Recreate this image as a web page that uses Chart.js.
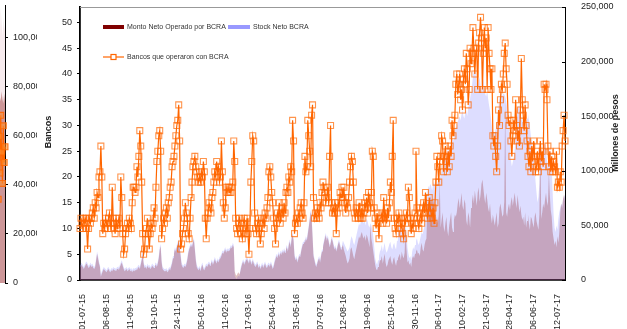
<!DOCTYPE html>
<html>
<head>
<meta charset="utf-8">
<script src="https://cdn.jsdelivr.net/npm/chart.js@4/dist/chart.umd.min.js"></script>
<style>
  body { margin: 0; background: #fff; }
  #wrap { position: relative; width: 627px; height: 329px; overflow: hidden; }
  #sideBox { position: absolute; left: 0; top: 0; width: 37px; height: 329px; overflow: hidden; }
  #side { position: absolute; left: -20px; top: 0; }
  #mainBox { position: absolute; left: 37px; top: 0; width: 590px; height: 329px; background: #fff; }
</style>
</head>
<body>
<div id="wrap">
  <div id="sideBox"><canvas id="side" width="60" height="329"></canvas></div>
  <div id="mainBox"><canvas id="main" width="590" height="329"></canvas></div>
</div>
<script>
// Dates shown on the x axis, one every 25 business days
const tickLabels = ['01-07-15', '06-08-15', '11-09-15', '19-10-15', '24-11-15', '05-01-16', '11-02-16',
  '17-03-16', '25-04-16', '31-05-16', '07-07-16', '12-08-16', '19-09-16', '25-10-16', '30-11-16',
  '06-01-17', '10-02-17', '21-03-17', '28-04-17', '06-06-17', '12-07-17'];
const firstTick = 3;
const tickStep = 25;

// Bancos que operaron con BCRA (daily count)
const bancos = [
  10,12,11,10,12,11,12,10,6,10,12,11,12,13,14,12,15,
  14,17,16,20,21,26,20,9,11,10,12,11,10,12,13,11,10,18,12,11,
  9,12,10,11,12,10,20,16,9,5,6,9,10,11,10,12,11,10,15,18,
  18,17,18,22,20,24,29,26,19,9,5,6,9,10,12,9,6,9,11,10,
  11,14,12,18,23,25,28,29,25,8,10,12,11,13,14,12,15,16,18,19,
  22,23,24,26,28,30,31,34,27,6,7,9,10,12,15,13,12,9,8,12,
  16,19,22,23,24,22,21,20,19,20,19,21,20,23,21,12,8,12,13,15,
  14,13,16,17,19,21,20,23,21,22,19,20,27,21,15,12,14,18,17,18,
  17,18,17,18,19,27,23,12,10,9,11,12,10,9,8,11,12,10,9,12,
  9,5,10,19,23,28,27,13,10,9,11,12,10,7,9,11,12,10,13,12,
  14,16,21,22,20,17,15,12,10,7,11,13,12,15,11,13,14,12,15,13,
  17,18,17,20,19,22,21,31,27,9,11,12,11,13,12,14,15,13,12,15,
  24,21,22,31,28,25,22,32,34,16,12,13,12,14,13,12,15,14,17,19,
  18,17,15,16,18,15,24,30,15,13,14,13,15,9,13,15,14,17,16,18,
  16,18,15,13,15,14,16,19,22,24,23,19,13,12,14,13,12,15,13,12,
  14,12,13,15,14,16,13,17,15,14,17,25,24,14,12,10,13,11,8,12,
  12,13,11,16,12,13,11,14,12,15,19,17,24,31,12,10,9,12,11,13,
  12,10,11,9,8,12,11,13,12,18,16,12,9,11,10,12,13,25,14,11,
  10,12,13,11,14,15,13,17,14,12,13,16,14,13,12,14,11,15,19,24,
  22,19,23,24,28,27,21,24,26,23,21,25,22,26,24,31,28,30,32,38,
  40,36,38,40,35,37,33,39,41,38,44,41,34,37,45,42,44,49,45,40,
  44,45,37,46,48,51,47,37,44,49,45,47,37,49,44,41,37,41,28,26,
  28,24,21,26,33,30,35,38,37,40,44,46,41,38,32,30,31,27,24,28,
  31,29,35,30,27,29,26,33,43,35,32,29,34,30,27,24,22,25,21,26,
  23,27,24,21,22,25,21,24,27,23,25,22,38,37,38,35,26,22,25,21,
  24,21,23,22,21,25,18,19,18,21,19,26,29,32,27
];

// Monto Neto Operado por BCRA (miles de millones de pesos)
const montoNeto = [
  12,14,13,12,10,12,14,15,13,11,12,14,12,13,11,10,12,
  18,24,20,15,12,3,6,8,10,9,8,7,9,10,8,7,9,8,10,9,
  9,8,10,11,9,12,14,16,13,10,8,9,10,8,9,10,8,9,7,9,
  8,9,10,9,11,12,10,14,18,25,15,11,12,10,13,11,12,10,11,13,
  12,11,13,14,12,15,20,28,31,16,10,9,8,8,9,7,8,10,9,12,
  15,20,24,28,26,30,33,35,30,22,14,12,11,13,12,14,18,24,28,30,
  32,30,34,37,28,18,12,10,9,11,8,12,14,10,9,11,13,12,14,15,
  13,15,17,14,16,19,17,15,18,16,19,20,22,25,24,26,28,25,27,26,
  27,28,30,29,32,30,8,5,4,6,7,5,8,12,15,17,14,16,18,19,
  17,15,19,16,14,18,15,13,12,14,15,11,13,10,12,14,11,13,15,12,
  11,13,14,12,15,13,10,12,16,19,22,20,24,21,25,23,26,24,27,25,
  28,30,26,32,35,30,38,42,36,22,18,20,16,19,22,21,26,30,33,35,
  34,38,36,42,48,55,62,58,40,22,18,14,12,15,18,20,16,22,26,30,
  34,38,41,36,39,35,30,33,38,36,32,28,30,26,29,33,35,31,28,30,
  32,28,25,22,18,15,17,20,28,30,26,22,19,24,28,32,36,40,38,42,
  44,40,38,41,36,42,39,35,30,50,38,33,26,20,14,10,9,12,14,18,
  18,22,15,20,24,16,12,14,18,20,22,17,14,19,21,16,13,18,20,22,
  24,18,26,22,20,25,48,28,16,18,14,16,12,20,22,20,24,26,28,24,
  25,22,30,34,28,26,32,36,38,67,72,70,77,74,68,75,70,56,50,58,
  52,60,92,48,55,62,50,44,52,58,46,40,50,56,62,48,44,55,60,58,
  62,70,75,66,72,80,68,64,74,70,55,50,62,58,48,66,72,78,70,82,
  75,68,80,85,72,78,88,92,84,76,70,80,74,66,62,70,58,52,60,55,
  50,56,62,48,52,66,70,64,58,60,72,165,62,58,66,70,64,72,76,68,
  74,80,72,66,78,70,62,68,60,55,58,50,62,48,54,60,52,46,58,56,
  52,48,58,62,54,50,46,60,130,56,62,70,66,74,80,72,68,100,78,64,
  58,44,38,32,36,30,40,34,44,62,70,66,75,78,72
];

// Stock Neto BCRA (miles de millones de pesos)
const stockNeto = [
  14,16,15,14,12,14,16,17,15,13,14,16,14,15,13,12,14,
  20,26,22,17,14,5,8,10,12,11,10,9,11,12,10,9,11,10,12,11,
  11,10,12,13,11,14,16,18,15,12,10,11,12,10,11,12,10,11,9,11,
  10,11,12,11,13,14,12,16,20,27,17,13,14,12,15,13,14,12,13,15,
  14,13,15,16,14,17,22,30,33,18,12,11,10,10,11,9,10,12,11,14,
  17,22,26,30,28,32,35,37,32,24,16,14,13,15,14,16,20,26,30,32,
  34,32,36,39,30,20,14,12,11,13,10,14,16,12,11,13,15,14,16,17,
  15,17,19,16,18,21,19,17,20,18,21,22,24,27,26,28,30,27,29,28,
  29,30,32,31,34,32,4,2,1,3,4,3,10,14,17,19,16,18,20,21,
  19,17,21,18,16,20,17,15,14,16,17,13,15,12,14,16,13,15,17,14,
  13,15,16,14,17,15,12,14,18,21,24,22,26,23,27,25,28,26,29,27,
  30,32,28,34,37,32,40,44,38,24,20,22,18,21,24,23,28,32,35,37,
  36,40,38,44,50,57,64,60,42,24,20,16,14,17,20,22,18,24,28,32,
  36,40,43,38,41,37,32,35,40,38,34,30,32,28,31,35,37,33,30,32,
  36,34,32,30,28,26,28,30,36,40,38,34,32,36,40,44,48,52,50,54,
  56,54,52,55,50,56,54,50,48,52,50,46,40,30,20,16,14,18,22,26,
  28,32,26,30,34,28,25,27,30,33,35,30,28,32,34,30,28,36,44,48,
  50,46,52,48,47,50,48,44,30,24,20,22,18,26,30,28,32,36,38,34,
  32,36,40,44,42,46,50,56,62,80,86,84,88,86,82,88,90,86,84,88,
  90,92,93,96,100,104,108,112,110,114,118,120,116,122,126,130,128,134,138,140,
  140,145,148,150,146,152,156,150,148,154,156,150,158,162,166,172,178,186,192,195,
  188,180,175,182,186,178,172,180,184,176,170,168,174,166,160,155,148,140,136,134,
  135,138,142,150,160,166,170,172,168,171,170,168,164,158,150,140,125,110,104,108,
  112,120,135,148,155,160,158,152,148,145,150,140,136,142,148,152,146,140,132,125,
  118,110,100,90,80,71,76,88,130,120,112,116,124,126,118,110,106,112,120,116,
  104,80,60,48,44,50,46,56,62,66,70,68,74,76,78
];

// Last days of the neighbouring chart, cut by the left edge
const sideBancos = [18, 24, 20, 27, 22, 17, 25, 29, 21, 19, 26, 23, 30, 20, 24,
  16, 28, 21, 32, 25, 19, 30, 23, 26];
const sideMonto = [70, 74, 71, 76, 73, 69, 75, 72, 74, 77, 71, 73, 76, 74, 72,
  75, 73, 76, 74, 78, 75, 73, 77, 74];
const sideStock = [100, 106, 98, 104, 110, 102, 96, 108, 104, 99, 107, 101, 105, 109, 100,
  103, 106, 98, 112, 106, 100, 108, 103, 105];

const FONT = 'Liberation Sans, Arial, sans-serif';
const TEXT = '#222';

const dayLabels = bancos.map(() => '');
tickLabels.forEach((t, k) => { dayLabels[firstTick + k * tickStep] = t; });

const fmtThousands = v => (v * 1000).toLocaleString('en-US');

function fixSize(prop, size) {
  return scale => {
    scale[prop] = size;
    scale.paddingTop = 0; scale.paddingBottom = 0;
    scale.paddingLeft = 0; scale.paddingRight = 0;
  };
}

// legend drawn inside the plot, two rows like the original sheet
const legendPlugin = {
  id: 'sheetLegend',
  afterDraw(chart) {
    const { ctx, chartArea: a } = chart;
    const ds = chart.data.datasets;
    ctx.save();
    ctx.font = '7px ' + FONT;
    ctx.textBaseline = 'middle';
    // Monto
    ctx.fillStyle = '#800000';
    ctx.fillRect(a.left + 23, a.top + 18, 21, 4);
    ctx.fillStyle = '#333';
    ctx.fillText(ds[1].label, a.left + 47, a.top + 20.5);
    // Stock
    ctx.fillStyle = '#9999ff';
    ctx.fillRect(a.left + 148, a.top + 18, 22, 4);
    ctx.fillStyle = '#333';
    ctx.fillText(ds[2].label, a.left + 173, a.top + 20.5);
    // Bancos
    const y = a.top + 50;
    ctx.strokeStyle = '#ff6600';
    ctx.lineWidth = 1.2;
    ctx.beginPath();
    ctx.moveTo(a.left + 23, y);
    ctx.lineTo(a.left + 44, y);
    ctx.stroke();
    ctx.fillStyle = '#fff';
    ctx.fillRect(a.left + 31, y - 2.5, 5, 5);
    ctx.strokeRect(a.left + 31, y - 2.5, 5, 5);
    ctx.fillStyle = '#333';
    ctx.fillText(ds[0].label, a.left + 47, y + 0.5);
    ctx.restore();
  }
};

// top border, short inward ticks on the right axis and the two axis titles
const framePlugin = {
  id: 'sheetFrame',
  afterDraw(chart) {
    const { ctx, chartArea: a } = chart;
    const right = chart.scales.y1;
    ctx.save();
    ctx.strokeStyle = '#999';
    ctx.lineWidth = 1;
    ctx.beginPath();
    ctx.moveTo(a.left, a.top + 0.5);
    ctx.lineTo(a.right, a.top + 0.5);
    ctx.stroke();
    ctx.strokeStyle = '#000';
    ctx.beginPath();
    right.ticks.forEach(t => {
      const y = Math.round(right.getPixelForValue(t.value)) + 0.5;
      ctx.moveTo(a.right - 3, y);
      ctx.lineTo(a.right, y);
    });
    ctx.stroke();
    ctx.font = 'bold 9px ' + FONT;
    ctx.fillStyle = TEXT;
    ctx.textAlign = 'center';
    ctx.textBaseline = 'middle';
    ctx.translate(a.left - 31, 132);
    ctx.rotate(-Math.PI / 2);
    ctx.fillText('Bancos', 0, 0);
    ctx.setTransform(1, 0, 0, 1, 0, 0);
    ctx.translate(a.right + 51, 133);
    ctx.rotate(-Math.PI / 2);
    ctx.fillText('Millones de pesos', 0, 0);
    ctx.restore();
  }
};

new Chart(document.getElementById('main'), {
  type: 'line',
  data: {
    labels: dayLabels,
    datasets: [
      {
        label: 'Bancos que operaron con BCRA',
        data: bancos,
        yAxisID: 'y',
        order: 0,
        borderColor: '#ff6600',
        borderWidth: 1.2,
        pointStyle: 'rect',
        pointRadius: 4.2,
        pointBorderWidth: 1.1,
        pointBorderColor: 'rgba(255,102,0,0.7)',
        pointBackgroundColor: 'rgba(255,255,255,0)',
        fill: false,
        tension: 0
      },
      {
        label: 'Monto Neto Operado por BCRA',
        data: montoNeto,
        yAxisID: 'y1',
        order: 1,
        backgroundColor: 'rgba(128,0,0,0.25)',
        borderWidth: 0,
        pointRadius: 0,
        fill: 'origin'
      },
      {
        label: 'Stock Neto BCRA',
        data: stockNeto,
        yAxisID: 'y1',
        order: 2,
        backgroundColor: 'rgba(153,153,255,0.33)',
        borderWidth: 0,
        pointRadius: 0,
        fill: 'origin'
      }
    ]
  },
  options: {
    responsive: false,
    animation: false,
    layout: { padding: { top: 7, left: 0, right: 0, bottom: 0 } },
    plugins: { legend: { display: false }, tooltip: { enabled: false } },
    scales: {
      x: {
        type: 'category',
        offset: false,
        grid: { display: false },
        border: { display: true, color: '#000', width: 1.8 },
        ticks: { autoSkip: false, minRotation: 90, maxRotation: 90, padding: 6,
          font: { family: FONT, size: 9 }, color: TEXT },
        afterFit: fixSize('height', 49)
      },
      y: {
        position: 'left',
        min: 0,
        max: 53,
        ticks: { stepSize: 5, padding: 5, font: { family: FONT, size: 9 }, color: TEXT },
        grid: { display: true, drawOnChartArea: false, tickLength: 3, color: '#000' },
        border: { color: '#000', width: 1.8 },
        afterBuildTicks: s => { s.ticks = s.ticks.filter(t => t.value % 5 === 0); },
        afterFit: fixSize('width', 43)
      },
      y1: {
        position: 'right',
        min: 0,
        max: 250,
        ticks: { stepSize: 50, padding: 8, font: { family: FONT, size: 9 }, color: TEXT,
          callback: fmtThousands },
        grid: { display: false },
        border: { color: '#000', width: 1 },
        afterFit: fixSize('width', 62)
      }
    }
  },
  plugins: [legendPlugin, framePlugin]
});

// neighbouring chart, only its right edge and axis show
new Chart(document.getElementById('side'), {
  type: 'line',
  data: {
    labels: sideBancos.map(() => ''),
    datasets: [
      {
        data: sideBancos,
        yAxisID: 'yb',
        order: 0,
        clip: false,
        borderColor: '#ff6600',
        borderWidth: 1.2,
        pointStyle: 'rect',
        pointRadius: 4.2,
        pointBorderWidth: 1.1,
        pointBorderColor: 'rgba(255,102,0,0.85)',
        pointBackgroundColor: 'rgba(255,140,40,0.6)',
        fill: false
      },
      {
        data: sideMonto,
        yAxisID: 'ya',
        order: 1,
        backgroundColor: 'rgba(128,0,0,0.36)',
        borderWidth: 0,
        pointRadius: 0,
        fill: 'origin'
      },
      {
        data: sideStock,
        yAxisID: 'ya',
        order: 2,
        backgroundColor: 'rgba(200,120,140,0.15)',
        borderWidth: 0,
        pointRadius: 0,
        fill: 'origin'
      }
    ]
  },
  options: {
    responsive: false,
    animation: false,
    layout: { padding: { top: 0, left: 0, right: 0, bottom: 46 } },
    plugins: { legend: { display: false }, tooltip: { enabled: false } },
    scales: {
      x: { display: false, offset: false },
      yb: { display: false, min: 0, max: 53 },
      ya: {
        position: 'right',
        min: 0,
        max: 113,
        ticks: { stepSize: 20, padding: 5, font: { family: FONT, size: 9 }, color: TEXT,
          callback: fmtThousands },
        grid: { display: true, drawOnChartArea: false, tickLength: 3, color: '#000' },
        border: { color: '#000', width: 1 },
        afterBuildTicks: s => { s.ticks = s.ticks.filter(t => t.value % 20 === 0); },
        afterFit: fixSize('width', 35)
      }
    }
  }
});
</script>
</body>
</html>
